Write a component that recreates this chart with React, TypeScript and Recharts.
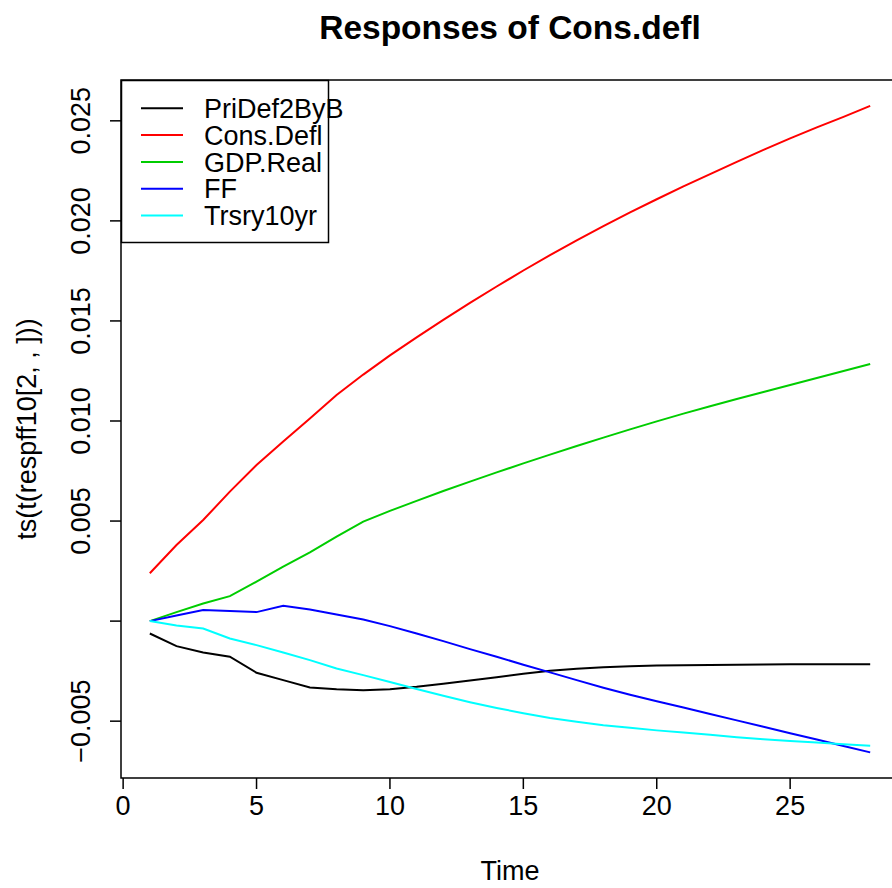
import React from 'react';
import { LineChart, Line, XAxis, YAxis, ReferenceArea } from 'recharts';

// Impulse responses of Cons.defl, horizons 1..28
const time = [1, 2, 3, 4, 5, 6, 7, 8, 9, 10, 11, 12, 13, 14, 15, 16, 17, 18, 19, 20, 21, 22, 23, 24, 25, 26, 27, 28];

const priDef2ByB = [
  -0.00062, -0.00125, -0.00157, -0.00178, -0.00258, -0.00295, -0.00332, -0.0034, -0.00345, -0.0034,
  -0.00328, -0.00313, -0.00297, -0.0028, -0.00263, -0.00248, -0.00238, -0.0023, -0.00225, -0.00222,
  -0.0022, -0.00219, -0.00218, -0.00217, -0.00216, -0.00216, -0.00215, -0.00215,
];
const consDefl = [
  0.00239, 0.0038, 0.00505, 0.00647, 0.0078, 0.00897, 0.01013, 0.0113, 0.01232, 0.01328,
  0.01418, 0.01505, 0.0159, 0.01672, 0.01752, 0.01829, 0.01903, 0.01974, 0.02042, 0.02108,
  0.02172, 0.02234, 0.02295, 0.02355, 0.02412, 0.02467, 0.0252, 0.02575,
];
const gdpReal = [
  0, 0.00045, 0.00088, 0.00125, 0.00197, 0.00272, 0.00343, 0.00422, 0.00497, 0.00551,
  0.00601, 0.0065, 0.00697, 0.00743, 0.00788, 0.00832, 0.00875, 0.00917, 0.00958, 0.00998,
  0.01037, 0.01074, 0.0111, 0.01145, 0.0118, 0.01215, 0.0125, 0.01285,
];
const ff = [
  0, 0.00028, 0.00055, 0.0005, 0.00045, 0.00077, 0.00058, 0.00033, 0.00008, -0.00025,
  -0.00062, -0.001, -0.0014, -0.00178, -0.00218, -0.00256, -0.00295, -0.00333, -0.00368, -0.004,
  -0.00432, -0.00464, -0.00496, -0.00528, -0.0056, -0.00592, -0.00624, -0.00656,
];
const trsry10yr = [
  0, -0.00022, -0.00037, -0.00087, -0.0012, -0.00157, -0.00195, -0.00237, -0.0027, -0.00304,
  -0.00339, -0.00373, -0.00405, -0.00434, -0.0046, -0.00484, -0.00503, -0.0052, -0.00533, -0.00546,
  -0.00557, -0.00568, -0.0058, -0.0059, -0.00599, -0.00607, -0.00615, -0.00623,
];

const seriesNames = ['PriDef2ByB', 'Cons.Defl', 'GDP.Real', 'FF', 'Trsry10yr'];
const seriesColors = ['#000000', '#ff0000', '#00cd00', '#0000ff', '#00ffff'];
const seriesValues = [priDef2ByB, consDefl, gdpReal, ff, trsry10yr];

const xTicks = [0, 5, 10, 15, 20, 25];
const yTicks = [-0.005, 0, 0.005, 0.01, 0.015, 0.02, 0.025];
const yTickLabels = ['\u22120.005', '', '0.005', '0.010', '0.015', '0.020', '0.025'];

const W = 900;
const H = 888;
const FONT = '"Liberation Sans", Arial, Helvetica, sans-serif';

// R-style 4% padding around the data range
const xDomain = [-0.08, 29.08];
const yDomain = [-0.00784, 0.02704];

const data = time.map((t, i) => {
  const row: any = { t };
  seriesValues.forEach((s, k) => (row['s' + k] = s[i]));
  return row;
});

function YTick({ x, y, payload }: any) {
  const idx = yTicks.indexOf(payload.value);
  return (
    <text x={x} y={y} transform={`rotate(-90, ${x}, ${y})`} textAnchor="middle" fontSize={27} fontFamily={FONT} fill="#000">
      {yTickLabels[idx] ?? ''}
    </text>
  );
}

function Overlay() {
  const rowY = (i: number) => 108.3 + 26.8 * i;
  return (
    <svg width={W} height={H} style={{ position: 'absolute', left: 0, top: 0, pointerEvents: 'none' }}>
      <text x={510} y={39} textAnchor="middle" fontSize={33.5} fontWeight="bold" fontFamily={FONT}>
        Responses of Cons.defl
      </text>
      <text x={510} y={880} textAnchor="middle" fontSize={27} fontFamily={FONT}>
        Time
      </text>
      <text x={36} y={429} transform="rotate(-90, 36, 429)" textAnchor="middle" fontSize={27} fontFamily={FONT}>
        ts(t(respff10[2, , ]))
      </text>
      <rect x={121.5} y={80.5} width={207} height={162} fill="none" stroke="#000" strokeWidth={1.5} />
      {seriesNames.map((name, i) => (
        <g key={name}>
          <line x1={141} x2={183} y1={rowY(i)} y2={rowY(i)} stroke={seriesColors[i]} strokeWidth={2} />
          <text x={204} y={rowY(i)} dy="0.36em" fontSize={27} fontFamily={FONT}>
            {name}
          </text>
        </g>
      ))}
    </svg>
  );
}

export default function App() {
  return (
    <div style={{ position: 'absolute', left: 0, top: 0, width: 892, height: 888, overflow: 'hidden', background: '#fff' }}>
      <LineChart width={W} height={H} data={data} margin={{ top: 80, right: 1, bottom: 0, left: 0 }}>
        <XAxis
          type="number"
          dataKey="t"
          domain={xDomain}
          ticks={xTicks}
          allowDataOverflow
          axisLine={false}
          tickLine={{ stroke: '#000', strokeWidth: 1.5 }}
          tickSize={11}
          tickMargin={7}
          height={110}
          interval={0}
          tick={{ fontSize: 27, fontFamily: FONT, fill: '#000' }}
        />
        <YAxis
          type="number"
          domain={yDomain}
          ticks={yTicks}
          allowDataOverflow
          axisLine={false}
          tickLine={{ stroke: '#000', strokeWidth: 1.5 }}
          tickSize={11}
          tickMargin={20}
          width={121}
          interval={0}
          tick={<YTick />}
        />
        <ReferenceArea x1={xDomain[0]} x2={xDomain[1]} y1={yDomain[0]} y2={yDomain[1]} fill="none" stroke="#000" strokeWidth={1.5} />
        {seriesNames.map((name, k) => (
          <Line
            key={name}
            type="linear"
            dataKey={'s' + k}
            name={name}
            stroke={seriesColors[k]}
            strokeWidth={2}
            dot={false}
            activeDot={false}
            isAnimationActive={false}
          />
        ))}
      </LineChart>
      <Overlay />
    </div>
  );
}
